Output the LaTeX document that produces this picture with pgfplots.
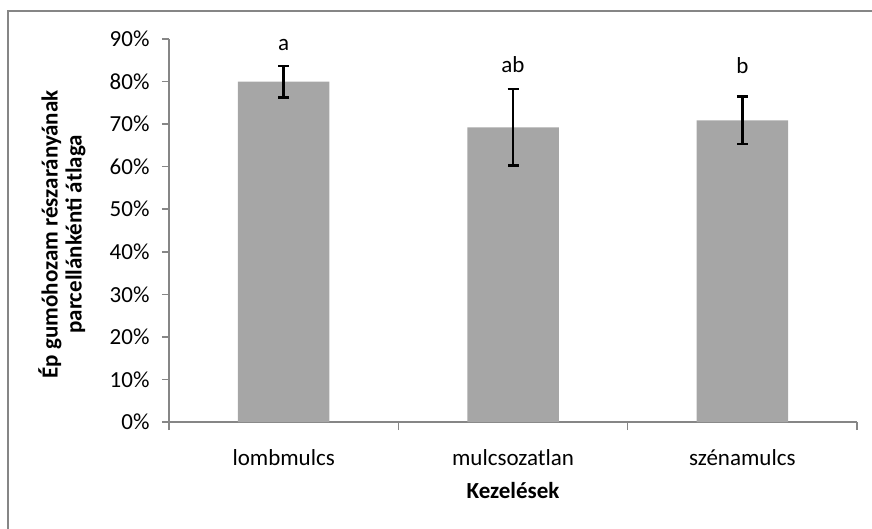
\documentclass[border=0pt]{standalone}
\usepackage{pgfplots}
\pgfplotsset{compat=1.18}
\usepackage{pgfplotstable}
\usepackage{fontspec}
\setmainfont{Carlito}
\definecolor{axisgray}{HTML}{868686}
\definecolor{barfill}{HTML}{A6A6A6}
\pgfplotstableread{
x y err
0 80.0 3.7
1 69.25 9.0
2 70.9 5.6
}\datatable
\begin{document}
\begin{tikzpicture}[x=1pt,y=1pt]
\useasboundingbox (0,0) rectangle (872,528);
\draw[axisgray, line width=1.5pt] (900,517) -- (8,517) -- (8,-20);
\begin{axis}[
  at={(169pt,106pt)}, anchor=south west,
  scale only axis,
  width=688pt, height=383pt,
  xmin=-0.5, xmax=2.5,
  ymin=0, ymax=90,
  axis x line*=bottom, axis y line*=left,
  axis line style={draw=axisgray, line width=1.5pt, -},
  ytick={0,10,...,90},
  yticklabel={\pgfmathprintnumber{\tick}\%},
  /pgf/number format/assume math mode=true,
  tick align=outside,
  major tick length=7pt,
  ytick style={draw=axisgray, line width=1.5pt},
  xtick={0,1,2},
  xticklabels={lombmulcs, mulcsozatlan, szénamulcs},
  xtick style={draw=none},
  extra x ticks={-0.5,0.5,1.5,2.5},
  extra x tick labels={},
  extra x tick style={xtick style={draw=axisgray, line width=1.5pt}, major tick length=8pt},
  tick label style={font=\fontsize{23}{24}\selectfont, text=black},
  yticklabel style={anchor=east, xshift=-9pt},
  xticklabel style={anchor=base, yshift=-36pt},
  xlabel={\textbf{Kezelések}},
  xlabel style={at={(axis description cs:0.5,0)}, anchor=base, yshift=-76pt, font=\fontsize{23}{24}\selectfont},
  ylabel={\textbf{Ép gumóhozam részarányának}\\\textbf{parcellánkénti átlaga}},
  ylabel style={at={(axis description cs:0,0.49)}, anchor=center, yshift=107pt, align=center, font=\fontsize{23}{24}\selectfont},
  clip=false,
]
\addplot[ybar, bar width=91.5pt, fill=barfill, draw=none,
  error bars/.cd, y dir=both, y explicit,
  error bar style={line width=2.4pt, black},
  error mark options={rotate=90, mark size=5.5pt, line width=2.4pt, black}]
  table[x=x, y=y, y error=err] {\datatable};
\node[anchor=base, font=\fontsize{23}{24}\selectfont] at (axis cs:0,87.4) {a};
\node[anchor=base, font=\fontsize{23}{24}\selectfont] at (axis cs:1,82.2) {ab};
\node[anchor=base, font=\fontsize{23}{24}\selectfont] at (axis cs:2,81.9) {b};
\end{axis}
\end{tikzpicture}
\end{document}
